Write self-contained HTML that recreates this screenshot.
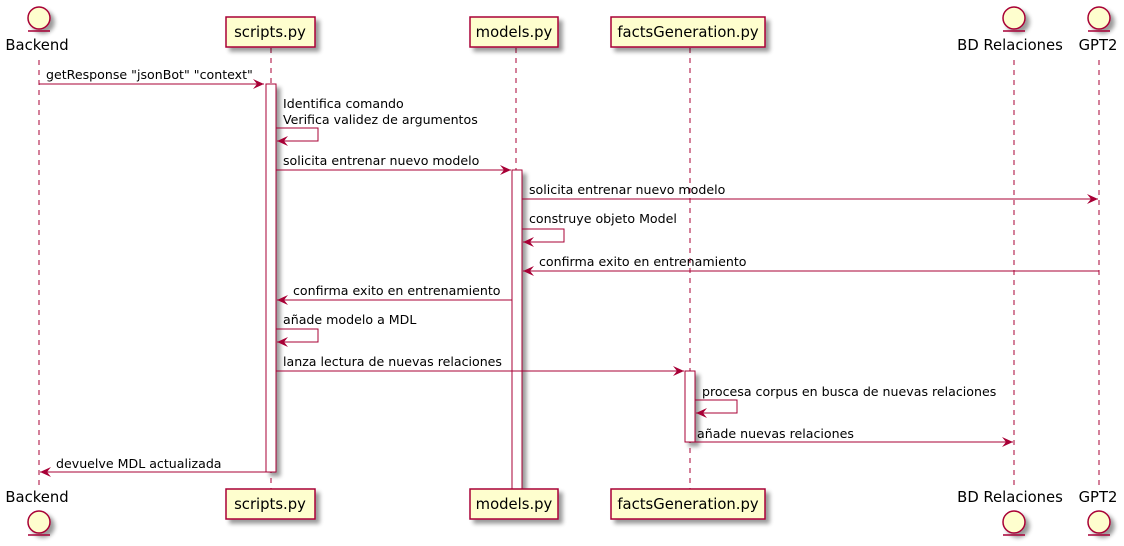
<!DOCTYPE html>
<html><head><meta charset="utf-8"><style>body{margin:0;background:#fff}svg{display:block}text{font-family:"DejaVu Sans","Liberation Sans",sans-serif;font-size:12.6px;fill:#000}</style></head><body>
<svg width="1124" height="546" viewBox="0 0 1124 546" xmlns="http://www.w3.org/2000/svg">
<defs>
<filter id="sh" x="-20%" y="-20%" width="150%" height="150%"><feGaussianBlur in="SourceAlpha" stdDeviation="2"/><feOffset dx="4" dy="4"/><feComponentTransfer><feFuncA type="linear" slope="0.4"/></feComponentTransfer><feMerge><feMergeNode/><feMergeNode in="SourceGraphic"/></feMerge></filter>
<marker id="ar" markerWidth="12" markerHeight="10" refX="11" refY="5" orient="auto" markerUnits="userSpaceOnUse"><path d="M0,0 L11,5 L0,10 L4,5 Z" fill="#A80036"/></marker>
</defs>
<g stroke="#A80036" stroke-width="1" stroke-dasharray="5,5">
<line x1="39" y1="60" x2="39" y2="488"/><line x1="271" y1="48" x2="271" y2="489"/><line x1="516" y1="48" x2="516" y2="489"/><line x1="690" y1="48" x2="690" y2="489"/><line x1="1014" y1="60" x2="1014" y2="488"/><line x1="1099" y1="60" x2="1099" y2="488"/>
</g>
<g fill="#fff" stroke="#A80036" stroke-width="1" filter="url(#sh)">
<rect x="266" y="84" width="10" height="388"/><rect x="512" y="170" width="10" height="322"/><rect x="685" y="371" width="10" height="71"/>
</g>
<g fill="#FEFECE" stroke="#A80036" stroke-width="1.5" filter="url(#sh)">
<rect x="226" y="17" width="89" height="30"/><rect x="470" y="17" width="88" height="30"/><rect x="611" y="17" width="154" height="30"/>
<rect x="226" y="489" width="89" height="30"/><rect x="470" y="489" width="88" height="30"/><rect x="611" y="489" width="154" height="30"/>
<circle cx="39" cy="18" r="11"/><circle cx="1014" cy="18" r="11"/><circle cx="1099" cy="18" r="11"/>
<circle cx="39" cy="522" r="11"/><circle cx="1014" cy="522" r="11"/><circle cx="1099" cy="522" r="11"/>
</g>
<g stroke="#A80036" stroke-width="1.5">
<line x1="28" y1="31" x2="50" y2="31"/><line x1="1003" y1="31" x2="1025" y2="31"/><line x1="1088" y1="31" x2="1110" y2="31"/>
<line x1="28" y1="535" x2="50" y2="535"/><line x1="1003" y1="535" x2="1025" y2="535"/><line x1="1088" y1="535" x2="1110" y2="535"/>
</g>
<g>
<text x="37" y="50" text-anchor="middle" style="font-size:14.8px">Backend</text>
<text x="1010" y="50" text-anchor="middle" style="font-size:14.8px">BD Relaciones</text>
<text x="1098" y="50" text-anchor="middle" style="font-size:14.8px">GPT2</text>
<text x="37" y="502" text-anchor="middle" style="font-size:14.8px">Backend</text>
<text x="1010" y="502" text-anchor="middle" style="font-size:14.8px">BD Relaciones</text>
<text x="1098" y="502" text-anchor="middle" style="font-size:14.8px">GPT2</text>
<text x="270" y="37" text-anchor="middle" style="font-size:14.8px">scripts.py</text>
<text x="514" y="37" text-anchor="middle" style="font-size:14.8px">models.py</text>
<text x="688" y="37" text-anchor="middle" style="font-size:14.8px">factsGeneration.py</text>
<text x="270" y="509" text-anchor="middle" style="font-size:14.8px">scripts.py</text>
<text x="514" y="509" text-anchor="middle" style="font-size:14.8px">models.py</text>
<text x="688" y="509" text-anchor="middle" style="font-size:14.8px">factsGeneration.py</text>
</g>
<g stroke="#A80036" stroke-width="1" fill="none" marker-end="url(#ar)">
<line x1="39" y1="84" x2="264" y2="84"/>
<polyline points="276,128 318,128 318,141 277,141"/>
<line x1="276" y1="170" x2="511" y2="170"/>
<line x1="522" y1="199" x2="1098" y2="199"/>
<polyline points="522,229 564,229 564,242 523,242"/>
<line x1="1099" y1="271" x2="523" y2="271"/>
<line x1="512" y1="300" x2="277" y2="300"/>
<polyline points="276,329 318,329 318,342 277,342"/>
<line x1="276" y1="371" x2="684" y2="371"/>
<polyline points="695,400 737,400 737,413 696,413"/>
<line x1="695" y1="442" x2="1013" y2="442"/>
<line x1="266" y1="472" x2="40" y2="472"/>
</g>
<text x="46" y="79">getResponse "jsonBot" "context"</text>
<text x="283" y="108">Identifica comando</text>
<text x="283" y="124">Verifica validez de argumentos</text>
<text x="283" y="165">solicita entrenar nuevo modelo</text>
<text x="529" y="194">solicita entrenar nuevo modelo</text>
<text x="529" y="223">construye objeto Model</text>
<text x="539" y="266">confirma exito en entrenamiento</text>
<text x="293" y="295">confirma exito en entrenamiento</text>
<text x="283" y="324">añade modelo a MDL</text>
<text x="283" y="366">lanza lectura de nuevas relaciones</text>
<text x="702" y="396">procesa corpus en busca de nuevas relaciones</text>
<text x="697" y="438">añade nuevas relaciones</text>
<text x="56" y="468">devuelve MDL actualizada</text>
</svg>
</body></html>
